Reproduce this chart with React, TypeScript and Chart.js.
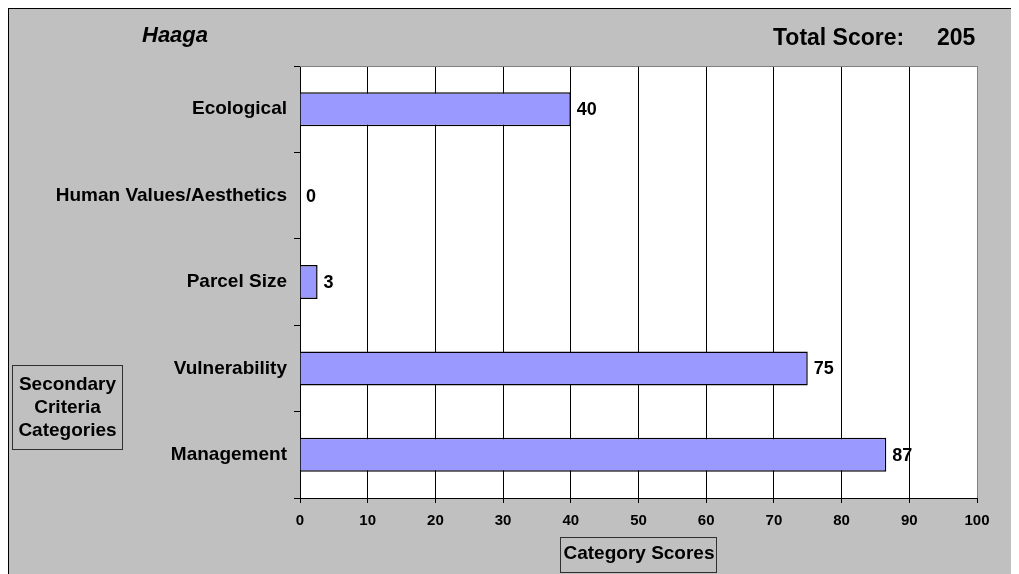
import React, { useEffect, useRef } from "react";
import { Chart, registerables } from "chart.js";

Chart.register(...registerables);

const siteName = "Haaga";
const totalLabel = "Total Score:";
const totalScore = 205;
const categories = [
  "Ecological",
  "Human Values/Aesthetics",
  "Parcel Size",
  "Vulnerability",
  "Management",
];
const scores = [40, 0, 2.6, 75, 86.6];
const yAxisTitleLines = ["Secondary", "Criteria", "Categories"];
const xAxisTitle = "Category Scores";

const FONT = '"Liberation Sans", Arial, Helvetica, sans-serif';

const overlayPlugin = {
  id: "overlay",
  beforeDraw(chart: any) {
    const { ctx, chartArea } = chart;
    ctx.save();
    ctx.fillStyle = "#ffffff";
    ctx.fillRect(chartArea.left, chartArea.top, chartArea.right - chartArea.left, chartArea.bottom - chartArea.top);
    ctx.restore();
  },
  afterDraw(chart: any) {
    const { ctx, chartArea } = chart;
    ctx.save();
    ctx.strokeStyle = "#808080";
    ctx.lineWidth = 1;
    ctx.beginPath();
    ctx.moveTo(Math.round(chartArea.left), Math.round(chartArea.top) + 0.5);
    ctx.lineTo(Math.round(chartArea.right), Math.round(chartArea.top) + 0.5);
    ctx.stroke();

    ctx.fillStyle = "#000";
    ctx.textBaseline = "alphabetic";
    ctx.textAlign = "left";
    ctx.font = `italic bold 22px ${FONT}`;
    ctx.fillText(siteName, 133, 33);
    ctx.font = `bold 23px ${FONT}`;
    ctx.fillText(totalLabel, 764, 36);
    ctx.fillText(String(totalScore), 928, 36);

    ctx.fillStyle = "#c0c0c0";
    ctx.fillRect(3.5, 356.5, 110, 84);
    ctx.strokeStyle = "#303030";
    ctx.strokeRect(3.5, 356.5, 110, 84);
    ctx.fillStyle = "#000";
    ctx.font = `bold 19px ${FONT}`;
    ctx.textAlign = "center";
    ctx.textBaseline = "middle";
    yAxisTitleLines.forEach((line, i) => {
      ctx.fillText(line, 58.5, 376 + i * 23);
    });

    ctx.fillStyle = "#c0c0c0";
    ctx.fillRect(551.5, 528.5, 156, 35);
    ctx.strokeStyle = "#303030";
    ctx.strokeRect(551.5, 528.5, 156, 35);
    ctx.fillStyle = "#000";
    ctx.fillText(xAxisTitle, 630, 545);
    ctx.restore();
  },
  afterDatasetsDraw(chart: any) {
    const { ctx } = chart;
    const meta = chart.getDatasetMeta(0);
    ctx.save();
    ctx.fillStyle = "#000";
    ctx.font = `bold 18px ${FONT}`;
    ctx.textAlign = "left";
    ctx.textBaseline = "middle";
    meta.data.forEach((bar: any, i: number) => {
      ctx.fillText(String(Math.round(scores[i])), bar.x + 6, bar.y + 1);
    });
    ctx.restore();
  },
};

export default function App() {
  const canvasRef = useRef<HTMLCanvasElement | null>(null);

  useEffect(() => {
    document.documentElement.style.overflow = "hidden";
    const canvas = canvasRef.current;
    if (!canvas) return;
    const chart = new Chart(canvas, {
      type: "bar",
      data: {
        labels: categories,
        datasets: [
          {
            data: scores,
            backgroundColor: "#9999ff",
            borderColor: "#000000",
            borderWidth: 1.5,
            categoryPercentage: 1,
            barPercentage: 0.394,
          },
        ],
      },
      options: {
        indexAxis: "y",
        responsive: false,
        animation: false,
        devicePixelRatio: 1,
        layout: { padding: { top: 57, right: 42, left: 0, bottom: 0 } },
        plugins: {
          legend: { display: false },
          tooltip: { enabled: false },
          title: { display: false },
        },
        scales: {
          x: {
            type: "linear",
            min: 0,
            max: 100,
            ticks: {
              stepSize: 10,
              color: "#000",
              font: { family: FONT, size: 15, weight: "bold" },
              padding: 9,
              maxRotation: 0,
            },
            grid: {
              color: (c: any) => (c.tick && c.tick.value === 100 ? "#808080" : "#000"),
              tickColor: "#000",
              tickLength: 5,
              lineWidth: 1,
            },
            border: { color: "#000", width: 1 },
            afterFit: (scale: any) => {
              scale.height = 76;
            },
          },
          y: {
            type: "category",
            ticks: {
              color: "#000",
              font: { family: FONT, size: 19, weight: "bold" },
              padding: 7,
            },
            grid: {
              offset: true,
              drawOnChartArea: false,
              drawTicks: true,
              tickLength: 6,
              color: "#000",
              tickColor: "#000",
            },
            border: { color: "#000", width: 1 },
            afterFit: (scale: any) => {
              scale.width = 291;
            },
          },
        },
      },
      plugins: [overlayPlugin],
    });
    return () => chart.destroy();
  }, []);

  return (
    <div
      style={{
        position: "relative",
        width: 1010,
        height: 565,
        background: "#c0c0c0",
        borderLeft: "1px solid #000",
        borderTop: "1px solid #000",
      }}
    >
      <canvas ref={canvasRef} width={1010} height={565} style={{ display: "block" }} />
    </div>
  );
}
